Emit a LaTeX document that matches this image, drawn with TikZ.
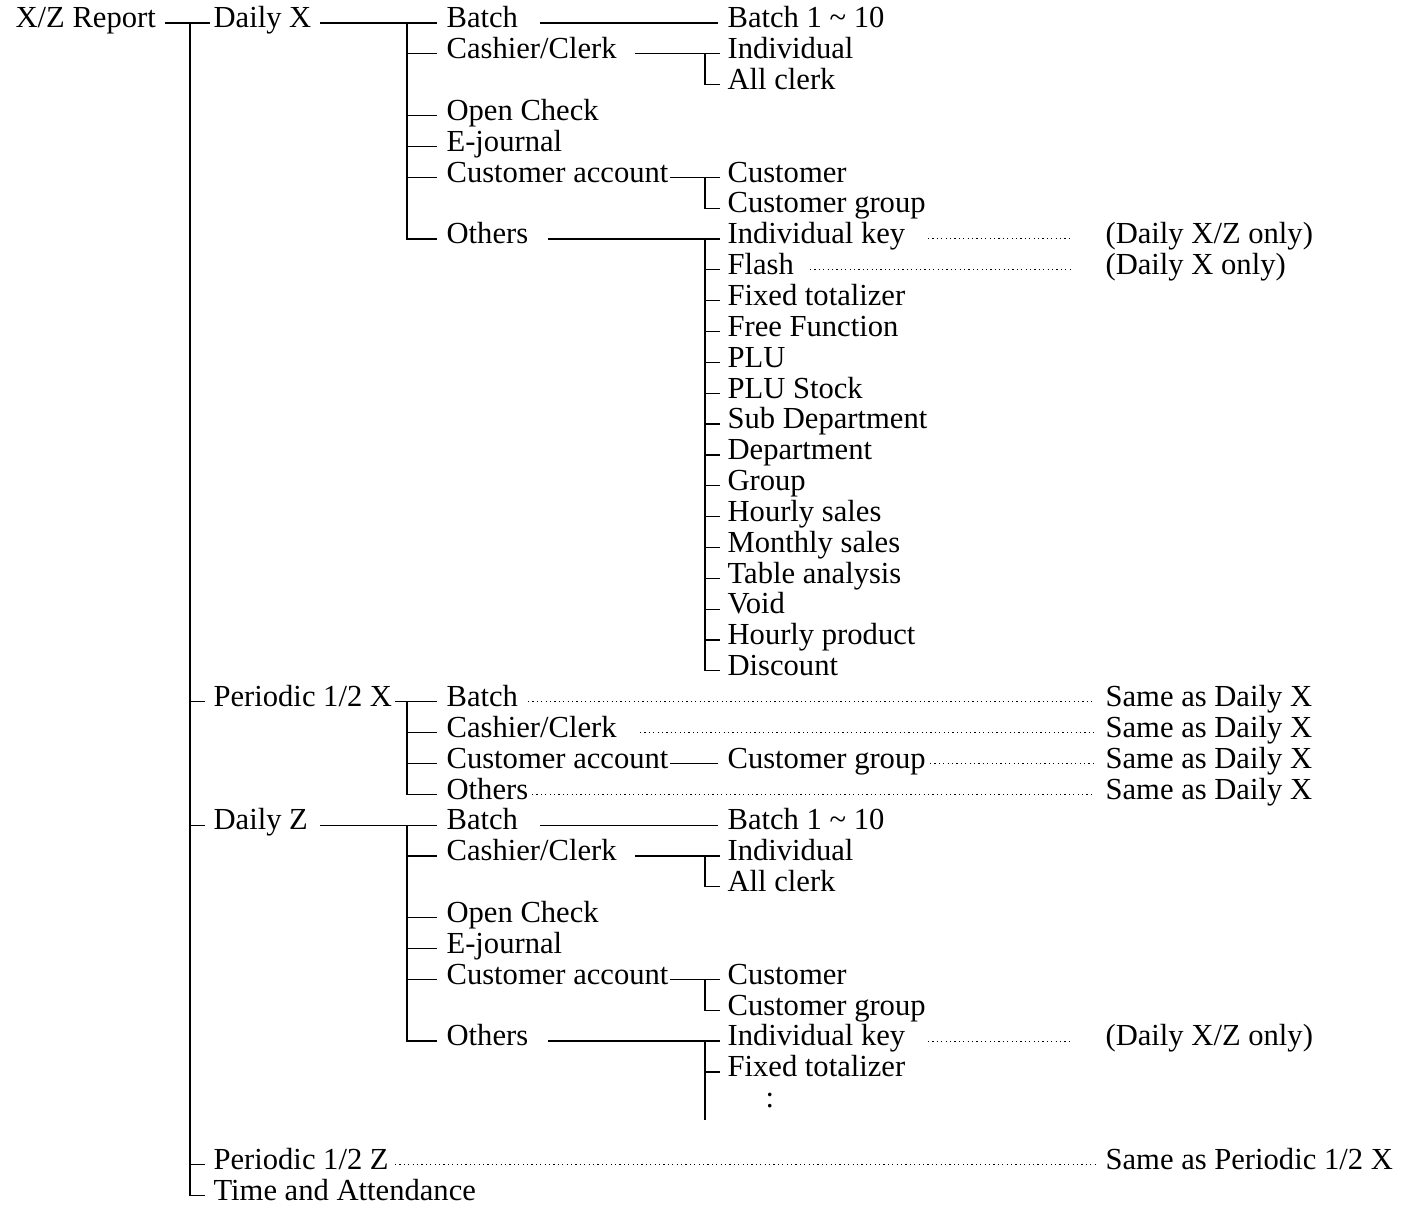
\documentclass[tikz,border=0pt]{standalone}
\usepackage{fontspec}
\setmainfont{Liberation Serif}
\begin{document}
\begin{tikzpicture}[x=0.5pt,y=-0.5pt,line width=0.6pt,
  declare function={R(\i)=23+30.85*\i;},
  t/.style={anchor=west,inner sep=0pt,font=\fontsize{15.3}{18}\selectfont,text height=0.68em,text depth=0.2em},
  dot/.style={line width=0.5pt,dash pattern=on 0.6pt off 1.6pt}]
\useasboundingbox (0,0) rectangle (1404,1212);
\newcommand\T[4]{\node[t] (#1) at (#2,{R(#3)}) {#4};}
\newcommand\HL[3]{\draw (#1,{R(#3)}) -- (#2,{R(#3)});}
\newcommand\DL[3]{\draw[dot] (#1,{R(#3)}) -- (#2,{R(#3)});}
\newcommand\VL[3]{\draw (#1,{R(#2)}) -- (#1,{R(#3)});}
% root
\T{root}{15}{0}{X/Z Report}
\HL{165}{210}{0}
\draw (190,{R(0)}) -- (190,{R(38)}) -- (205,{R(38)});
\foreach \i in {22,26,37} {\HL{190}{205}{\i}}
\T{dx}{213}{0}{Daily X}
\T{px}{213}{22}{Periodic 1/2 X}
\T{dz}{213}{26}{Daily Z}
\T{pz}{213}{37}{Periodic 1/2 Z}
\T{ta}{213}{38}{Time and Attendance}
% Daily X / Daily Z blocks
\foreach \o/\p in {0/a,26/b} {
  \HL{320}{437}{\o}
  \draw (407,{R(\o)}) -- (407,{R(\o+7)}) -- (437,{R(\o+7)});
  \foreach \k in {1,3,4,5} {\HL{407}{437}{\o+\k}}
  \T{ba\p}{446}{\o}{Batch}
  \T{cc\p}{446}{\o+1}{Cashier/Clerk}
  \T{oc\p}{446}{\o+3}{Open Check}
  \T{ej\p}{446}{\o+4}{E-journal}
  \T{ca\p}{446}{\o+5}{Customer account}
  \T{ot\p}{446}{\o+7}{Others}
  \HL{540}{718}{\o}
  \T{bt\p}{727}{\o}{Batch 1 \textasciitilde\ 10}
  \HL{635}{720}{\o+1}
  \draw (705,{R(\o+1)}) -- (705,{R(\o+2)}) -- (720,{R(\o+2)});
  \T{in\p}{727}{\o+1}{Individual}
  \T{al\p}{727}{\o+2}{All clerk}
  \HL{670}{720}{\o+5}
  \draw (705,{R(\o+5)}) -- (705,{R(\o+6)}) -- (720,{R(\o+6)});
  \T{cu\p}{727}{\o+5}{Customer}
  \T{cg\p}{727}{\o+6}{Customer group}
  \HL{548}{720}{\o+7}
  \T{ik\p}{727}{\o+7}{Individual key}
  \DL{928}{1070}{\o+7}
  \T{xz\p}{1105}{\o+7}{(Daily X/Z only)}
}
% Daily X others list
\draw (705,{R(7)}) -- (705,{R(21)}) -- (720,{R(21)});
\foreach \k in {8,...,20} {\HL{705}{720}{\k}}
\foreach \k/\s [count=\n] in {8/Flash,9/Fixed totalizer,10/Free Function,11/PLU,12/PLU Stock,13/Sub Department,14/Department,15/Group,16/Hourly sales,17/Monthly sales,18/Table analysis,19/Void,20/Hourly product,21/Discount/coupon} {\T{o\n}{727}{\k}{\s}}
\DL{810}{1070}{8}
\T{xo}{1105}{8}{(Daily X only)}
% Daily Z others
\draw (705,{R(33)}) -- (705,1120);
\HL{705}{720}{34}
\T{fz}{727}{34}{Fixed totalizer}
\T{dd}{765}{35}{:}
% Periodic X
\HL{395}{437}{22}
\draw (407,{R(22)}) -- (407,{R(25)}) -- (437,{R(25)});
\foreach \k in {23,24} {\HL{407}{437}{\k}}
\T{pb}{446}{22}{Batch}
\T{pc}{446}{23}{Cashier/Clerk}
\T{pa}{446}{24}{Customer account}
\T{po}{446}{25}{Others}
\HL{670}{718}{24}
\T{pg}{727}{24}{Customer group}
\DL{528}{1095}{22}
\DL{640}{1095}{23}
\DL{930}{1095}{24}
\DL{532}{1095}{25}
\foreach \k in {22,...,25} {\T{s\k}{1105}{\k}{Same as Daily X}}
\DL{395}{1095}{37}
\T{sp}{1105}{37}{Same as Periodic 1/2 X}
\end{tikzpicture}
\end{document}
